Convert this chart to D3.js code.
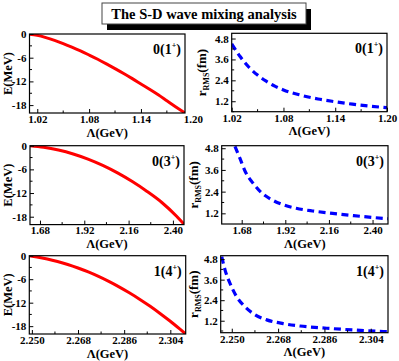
<!DOCTYPE html>
<html>
<head>
<meta charset="utf-8">
<script src="https://cdn.jsdelivr.net/npm/d3@7"></script>
<style>
  body { margin: 0; background: #fff; }
  svg text { font-family: "Liberation Serif", "DejaVu Serif", serif !important; font-weight: bold; }
</style>
</head>
<body>
<script>
// binding energy curves E(MeV) against cutoff Lambda(GeV)
let lamE1 = [1.011, 1.02, 1.03, 1.04, 1.05, 1.06, 1.07, 1.08, 1.09, 1.10, 1.11, 1.12, 1.13, 1.14, 1.15, 1.16, 1.17, 1.18, 1.191];
let valE1 = [-0.05, -0.35, -0.92, -1.62, -2.43, -3.32, -4.28, -5.32, -6.40, -7.56, -8.76, -10.0, -11.3, -12.65, -14.0, -15.4, -16.9, -18.4, -20.0];

let lamE2 = [1.626, 1.70, 1.78, 1.86, 1.94, 2.02, 2.10, 2.18, 2.26, 2.34, 2.42, 2.46];
let valE2 = [-0.02, -0.4, -1.1, -2.1, -3.4, -5.0, -6.9, -9.1, -11.6, -14.4, -17.9, -19.9];

let lamE3 = [2.249, 2.252, 2.256, 2.260, 2.264, 2.268, 2.272, 2.276, 2.280, 2.284, 2.288, 2.292, 2.296, 2.300, 2.304, 2.308, 2.310];
let valE3 = [0, -0.31, -0.83, -1.48, -2.25, -3.15, -4.16, -5.30, -6.57, -7.96, -9.47, -11.1, -12.86, -14.75, -16.75, -18.9, -20.0];

// rms radius curves r(fm) against Lambda(GeV)
let lamR1 = [1.02, 1.03, 1.04, 1.05, 1.06, 1.07, 1.08, 1.10, 1.12, 1.14, 1.16, 1.18, 1.20];
let valR1 = [4.5, 3.75, 3.15, 2.7, 2.35, 2.07, 1.85, 1.55, 1.33, 1.17, 1.03, 0.92, 0.83];

let lamR2 = [1.643, 1.67, 1.70, 1.74, 1.79, 1.85, 1.91, 1.98, 2.07, 2.18, 2.29, 2.40, 2.485];
let valR2 = [4.9, 4.25, 3.5, 2.9, 2.33, 1.93, 1.67, 1.48, 1.33, 1.2, 1.08, 0.97, 0.9];

let lamR3 = [2.2461, 2.2474, 2.2493, 2.2519, 2.2551, 2.2590, 2.2636, 2.2700, 2.2765, 2.2869, 2.2972, 2.3089, 2.3107];
let valR3 = [4.94, 4.16, 3.39, 2.60, 2.02, 1.55, 1.25, 1.03, 0.89, 0.76, 0.66, 0.57, 0.56];

// tick labels
let xTicks1 = [1.02, 1.08, 1.14, 1.20];
let xTicks2 = [1.68, 1.92, 2.16, 2.40];
let xTicks3 = [2.250, 2.268, 2.286, 2.304];
let xMinor1 = [1.05, 1.11, 1.17];
let xMinor2 = [1.56, 1.80, 2.04, 2.28];
let xMinor3 = [2.259, 2.277, 2.295];
let eTicks = [0, -6, -12, -18];
let eMinor = [-3, -9, -15];
let rTicks = [1.2, 2.4, 3.6, 4.8];
let rMinor = [0.6, 1.8, 3.0, 4.2];

let states = [['0', '1'], ['0', '3'], ['1', '4']];
let title = 'The S-D wave mixing analysis';

let width = 399, height = 361;
let serif = '"Liberation Serif", "DejaVu Serif", serif';

let svg = d3.select('body').append('svg')
  .attr('width', width)
  .attr('height', height)
  .attr('font-family', serif);

// title box with drop shadow
svg.append('rect').attr('x', 107).attr('y', 9).attr('width', 204).attr('height', 21).attr('fill', '#000');
svg.append('rect').attr('x', 102).attr('y', 3).attr('width', 204).attr('height', 21)
  .attr('fill', '#fff').attr('stroke', '#444').attr('stroke-width', 1);
svg.append('text').attr('x', 204).attr('y', 18.5).attr('text-anchor', 'middle')
  .style('font-size', '14.5px').text(title);

// panel frames: [left, right, top, bottom]
let panels = [
  {kind: 'E', row: 0, box: [29.5, 185, 34, 113], xd: [1.011, 1.191], yd: [-20, 0], lam: lamE1, val: valE1, xt: xTicks1, xm: xMinor1, fmt: '.2f'},
  {kind: 'R', row: 0, box: [231.7, 387, 33.3, 111.7], xd: [1.02, 1.20], yd: [0.6, 5.1], lam: lamR1, val: valR1, xt: xTicks1, xm: xMinor1, fmt: '.2f'},
  {kind: 'E', row: 1, box: [30, 184, 145.7, 224.6], xd: [1.626, 2.46], yd: [-20, 0], lam: lamE2, val: valE2, xt: xTicks2, xm: xMinor2, fmt: '.2f'},
  {kind: 'R', row: 1, box: [221.7, 388, 145.7, 224], xd: [1.57, 2.485], yd: [0.61, 4.94], lam: lamR2, val: valR2, xt: xTicks2, xm: xMinor2, fmt: '.2f'},
  {kind: 'E', row: 2, box: [29.3, 185.7, 255.7, 334], xd: [2.249, 2.310], yd: [-20, 0], lam: lamE3, val: valE3, xt: xTicks3, xm: xMinor3, fmt: '.3f'},
  {kind: 'R', row: 2, box: [220.7, 388, 255.7, 332.7], xd: [2.2457, 2.3107], yd: [0.5, 5.0], lam: lamR3, val: valR3, xt: xTicks3, xm: xMinor3, fmt: '.3f'}
];

panels.forEach(function(p, i) {
  let [l, r, t, b] = p.box;
  let x = d3.scaleLinear().domain(p.xd).range([l, r]);
  let y = d3.scaleLinear().domain(p.yd).range([b, t]);
  let inX = v => v >= p.xd[0] - 1e-9 && v <= p.xd[1] + 1e-9;
  let inY = v => v >= p.yd[0] - 1e-9 && v <= p.yd[1] + 1e-9;

  let g = svg.append('g');

  svg.append('clipPath').attr('id', 'clip' + i)
    .append('rect').attr('x', l).attr('y', t).attr('width', r - l).attr('height', b - t);

  let line = d3.line().x((d, j) => x(p.lam[j])).y(d => y(d)).curve(d3.curveMonotoneX);
  let path = g.append('path')
    .datum(p.val)
    .attr('clip-path', 'url(#clip' + i + ')')
    .attr('fill', 'none')
    .attr('d', line);
  if (p.kind === 'E') {
    path.attr('stroke', '#ff0000').attr('stroke-width', 3);
  } else {
    path.attr('stroke', '#0000ff').attr('stroke-width', 3.2).attr('stroke-dasharray', '7,4.5');
  }

  // minor ticks
  let yMinor = p.kind === 'E' ? eMinor : rMinor;
  g.selectAll('.mx').data(p.xm.filter(inX)).enter().append('line')
    .attr('x1', d => x(d)).attr('x2', d => x(d)).attr('y1', b).attr('y2', b - 2.5)
    .attr('stroke', '#000').attr('stroke-width', 1);
  g.selectAll('.my').data(yMinor.filter(inY)).enter().append('line')
    .attr('x1', l).attr('x2', l + 2.5).attr('y1', d => y(d)).attr('y2', d => y(d))
    .attr('stroke', '#000').attr('stroke-width', 1);

  // x axis
  let xAxis = g.append('g').attr('transform', 'translate(0,' + b + ')')
    .call(d3.axisBottom(x).tickValues(p.xt).tickSize(-4).tickPadding(2).tickFormat(d3.format(p.fmt)));
  xAxis.attr('font-family', serif);
  xAxis.select('.domain').remove();
  xAxis.selectAll('.tick').filter(d => !inX(d)).select('line').remove();
  xAxis.selectAll('text').style('font-size', '11px').attr('fill', '#000');

  // y axis
  let yt = p.kind === 'E' ? eTicks : rTicks;
  let yAxis = g.append('g').attr('transform', 'translate(' + l + ',0)')
    .call(d3.axisLeft(y).tickValues(yt).tickSize(-4).tickPadding(3)
      .tickFormat(p.kind === 'E' ? (d => String(d)) : d3.format('.1f')));
  yAxis.attr('font-family', serif);
  yAxis.select('.domain').remove();
  yAxis.selectAll('text').style('font-size', '11px').attr('fill', '#000');

  // frame
  g.append('rect').attr('x', l).attr('y', t).attr('width', r - l).attr('height', b - t)
    .attr('fill', 'none').attr('stroke', '#000').attr('stroke-width', 1.2);

  // axis titles
  g.append('text').attr('x', (l + r) / 2).attr('y', b + 23.5).attr('text-anchor', 'middle')
    .style('font-size', '12.5px').text('\u039B(GeV)');

  let ym = (t + b) / 2;
  if (p.kind === 'E') {
    g.append('text').attr('transform', 'translate(11.5,' + ym + ') rotate(-90)')
      .attr('text-anchor', 'middle').style('font-size', '12.5px').text('E(MeV)');
  } else {
    let lx = p.row === 0 ? 206 : 198;
    let lab = g.append('text').attr('transform', 'translate(' + lx + ',' + ym + ') rotate(-90)')
      .attr('text-anchor', 'middle').style('font-size', '13px');
    lab.append('tspan').text('r');
    lab.append('tspan').attr('dy', 3).style('font-size', '8px').text('RMS');
    lab.append('tspan').attr('dy', -3).text('(fm)');
  }

  // state label
  let s = states[p.row];
  let st = g.append('text').attr('x', r - 4).attr('y', t + 20).attr('text-anchor', 'end')
    .style('font-size', '14px');
  st.append('tspan').text(s[0] + '(' + s[1]);
  st.append('tspan').attr('dy', -6).style('font-size', '8px').text('+');
  st.append('tspan').attr('dy', 6).text(')');
});
</script>
</body>
</html>
